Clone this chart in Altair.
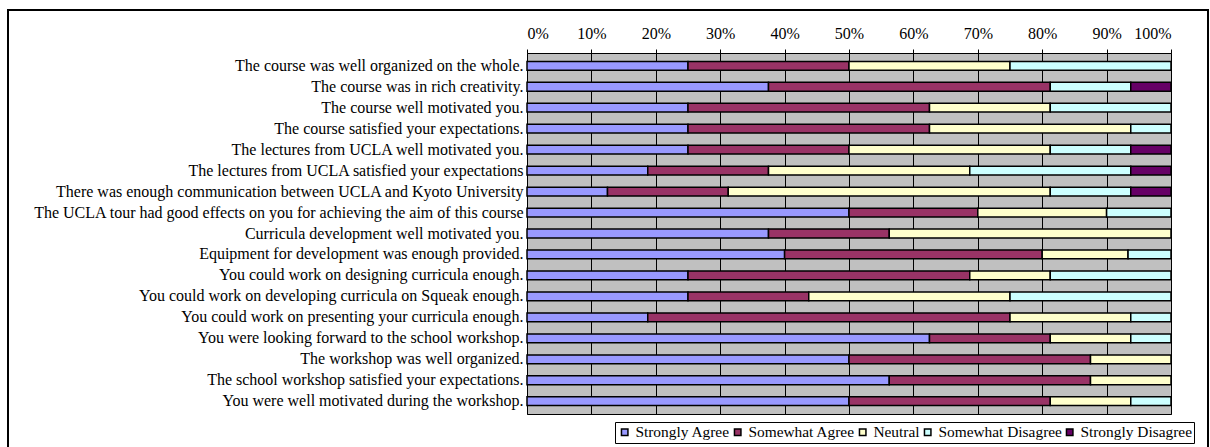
import altair as alt
import pandas as pd

questions = [
    "The course was well organized on the whole.",
    "The course was in rich creativity.",
    "The course well motivated you.",
    "The course satisfied your expectations.",
    "The lectures from UCLA well motivated you.",
    "The lectures from UCLA satisfied your expectations",
    "There was enough communication between UCLA and Kyoto University",
    "The UCLA tour had good effects on you for achieving the aim of this course",
    "Curricula development well motivated you.",
    "Equipment for development was enough provided.",
    "You could work on designing curricula enough.",
    "You could work on developing curricula on Squeak enough.",
    "You could work on presenting your curricula enough.",
    "You were looking forward to the school workshop.",
    "The workshop was well organized.",
    "The school workshop satisfied your expectations.",
    "You were well motivated during the workshop.",
]

categories = ["Strongly Agree", "Somewhat Agree", "Neutral", "Somewhat Disagree", "Strongly Disagree"]
colors = ["#9999FF", "#993366", "#FFFFCC", "#CCFFFF", "#660066"]

strongly_agree = [25, 37.5, 25, 25, 25, 18.75, 12.5, 50, 37.5, 40, 25, 25, 18.75, 62.5, 50, 56.25, 50]
somewhat_agree = [25, 43.75, 37.5, 37.5, 25, 18.75, 18.75, 20, 18.75, 40, 43.75, 18.75, 56.25, 18.75, 37.5, 31.25, 31.25]
neutral = [25, 0, 18.75, 31.25, 31.25, 31.25, 50, 20, 43.75, 13.33, 12.5, 31.25, 18.75, 12.5, 12.5, 12.5, 12.5]
somewhat_disagree = [25, 12.5, 18.75, 6.25, 12.5, 25, 12.5, 10, 0, 6.67, 18.75, 25, 6.25, 6.25, 0, 0, 6.25]
strongly_disagree = [0, 6.25, 0, 0, 6.25, 6.25, 6.25, 0, 0, 0, 0, 0, 0, 0, 0, 0, 0]

series = [strongly_agree, somewhat_agree, neutral, somewhat_disagree, strongly_disagree]

rows = []
for qi, q in enumerate(questions):
    for ci, c in enumerate(categories):
        v = series[ci][qi]
        if v > 0:
            rows.append({"question": q, "category": c, "value": v, "idx": ci})
df = pd.DataFrame(rows)

FONT = "Liberation Serif"

bars = alt.Chart(df).mark_bar(stroke="black", strokeWidth=1.5).encode(
    x=alt.X(
        "value:Q",
        stack="zero",
        scale=alt.Scale(domain=[0, 100], nice=False),
        axis=alt.Axis(
            orient="top",
            values=list(range(0, 101, 10)),
            labelExpr="datum.value + '%'",
            title=None,
            grid=True,
            gridColor="black",
            gridOpacity=1,
            gridWidth=1,
            domain=False,
            tickColor="black",
            tickSize=4,
            labelFont=FONT,
            labelFontSize=16,
            labelColor="black",
            labelPadding=8,
        ),
    ),
    y=alt.Y(
        "question:N",
        sort=questions,
        scale=alt.Scale(paddingInner=0.58, paddingOuter=0.4),
        axis=alt.Axis(
            title=None,
            ticks=False,
            domain=False,
            labelFont=FONT,
            labelFontSize=16,
            labelColor="black",
            labelLimit=600,
            labelPadding=4,
        ),
    ),
    color=alt.Color(
        "category:N",
        scale=alt.Scale(domain=categories, range=colors),
        legend=alt.Legend(
            title=None,
            orient="none",
            legendX=88,
            legendY=369,
            direction="horizontal",
            columns=5,
            symbolType="square",
            symbolSize=42,
            symbolStrokeColor="black",
            symbolStrokeWidth=1.5,
            labelFont=FONT,
            labelFontSize=15.4,
            labelColor="black",
            labelOffset=3,
            columnPadding=0,
            padding=2,
            strokeColor="black",
            fillColor="white",
            labelLimit=300,
        ),
    ),
    order=alt.Order("idx:Q"),
)

frame = alt.Chart(pd.DataFrame({"k": [0]})).mark_rect(
    fillOpacity=0, stroke="black", strokeWidth=2
).encode(
    x=alt.value(-519), x2=alt.value(681), y=alt.value(-43), y2=alt.value(420)
)

chart = alt.layer(frame, bars).properties(
    width=644,
    height=361,
    autosize=alt.AutoSizeParams(type="none"),
    padding={"left": 527, "top": 53, "right": 39, "bottom": 33},
    background="white",
).configure_view(fill="#C0C0C0", stroke="black", strokeWidth=1)

chart.save("out.html", embed_options={"renderer": "svg", "actions": False})
